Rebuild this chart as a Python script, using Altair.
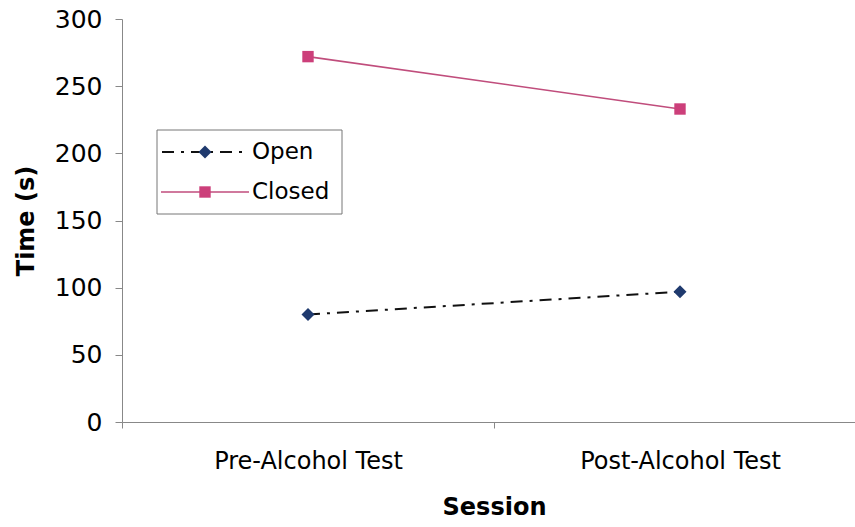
import altair as alt
import pandas as pd

# Mean completion time per session for each condition
sessions = ["Pre-Alcohol Test", "Post-Alcohol Test"]
series_names = ["Open", "Closed"]
open_times = [80, 97]
closed_times = [272, 233]

colors = ["#1f3a6e", "#cc3f7a"]
line_colors = ["#111111", "#c04d7c"]

rows = []
for s, v in zip(sessions, open_times):
    rows.append({"Session": s, "Series": "Open", "Time": v})
for s, v in zip(sessions, closed_times):
    rows.append({"Session": s, "Series": "Closed", "Time": v})
df = pd.DataFrame(rows)

FONT = "DejaVu Sans"
one = pd.DataFrame({"k": [0]})

x_enc = alt.X(
    "Session:N",
    sort=sessions,
    bandPosition=0.5,
    scale=alt.Scale(type="band", paddingInner=0, paddingOuter=0, range=[0, 744]),
    axis=alt.Axis(
        title="Session", labelAngle=0, tickBand="extent", tickSize=6,
        labelFontSize=24, labelFont=FONT, labelColor="#000", labelPadding=21,
        labelLimit=0,
        titleFontSize=24, titleFont=FONT, titleFontWeight="bold", titleColor="#000",
        titlePadding=22, domainColor="#888", tickColor="#888", grid=False,
    ),
)
y_enc = alt.Y(
    "Time:Q",
    scale=alt.Scale(domain=[0, 300], nice=False, zero=True),
    axis=alt.Axis(
        title="Time (s)", values=[0, 50, 100, 150, 200, 250, 300], tickSize=7,
        labelFontSize=25, labelFont=FONT, labelColor="#000", labelPadding=13,
        titleFontSize=24, titleFont=FONT, titleFontWeight="bold", titleColor="#000",
        titlePadding=16, domainColor="#888", tickColor="#888", grid=False,
    ),
)

base = alt.Chart(df)

open_line = base.transform_filter(alt.datum.Series == "Open").mark_line(
    color=line_colors[0], strokeWidth=2, strokeDash=[12, 7, 3, 7]
).encode(x=x_enc, y=y_enc)

closed_line = base.transform_filter(alt.datum.Series == "Closed").mark_line(
    color=line_colors[1], strokeWidth=1.6
).encode(x=x_enc, y=y_enc)

open_pts = base.transform_filter(alt.datum.Series == "Open").mark_point(
    shape="diamond", filled=True, size=170, color=colors[0], opacity=1
).encode(x=x_enc, y=y_enc)

closed_pts = base.transform_filter(alt.datum.Series == "Closed").mark_point(
    shape="square", filled=True, size=130, color=colors[1], opacity=1
).encode(x=x_enc, y=y_enc)

# Legend box with line-and-marker samples
leg_box = alt.Chart(one).mark_rect(fill="white", stroke="#777", strokeWidth=1).encode(
    x=alt.value(35), x2=alt.value(220), y=alt.value(111), y2=alt.value(195)
)
leg_open_line = alt.Chart(one).mark_rule(
    color=line_colors[0], strokeWidth=2, strokeDash=[12, 7, 3, 7]
).encode(x=alt.value(40), x2=alt.value(127), y=alt.value(133))
leg_closed_line = alt.Chart(one).mark_rule(
    color=line_colors[1], strokeWidth=1.6
).encode(x=alt.value(39), x2=alt.value(127), y=alt.value(173))
leg_open_pt = alt.Chart(one).mark_point(
    shape="diamond", filled=True, size=170, color=colors[0], opacity=1
).encode(x=alt.value(83), y=alt.value(133))
leg_closed_pt = alt.Chart(one).mark_point(
    shape="square", filled=True, size=130, color=colors[1], opacity=1
).encode(x=alt.value(83), y=alt.value(173))
leg_open_txt = alt.Chart(one).mark_text(
    text=series_names[0], align="left", baseline="middle", fontSize=23, font=FONT, color="#000"
).encode(x=alt.value(130), y=alt.value(133))
leg_closed_txt = alt.Chart(one).mark_text(
    text=series_names[1], align="left", baseline="middle", fontSize=23, font=FONT, color="#000"
).encode(x=alt.value(130), y=alt.value(173))

chart = alt.layer(
    open_line, closed_line, open_pts, closed_pts,
    leg_box, leg_open_line, leg_closed_line, leg_open_pt, leg_closed_pt,
    leg_open_txt, leg_closed_txt,
).properties(
    width=733, height=403,
    autosize=alt.AutoSizeParams(type="none"),
    padding={"left": 122, "top": 19, "right": 0, "bottom": 105},
    background="white",
).configure_view(stroke=None)

chart.save("out.html", embed_options={"renderer": "svg", "actions": False})
